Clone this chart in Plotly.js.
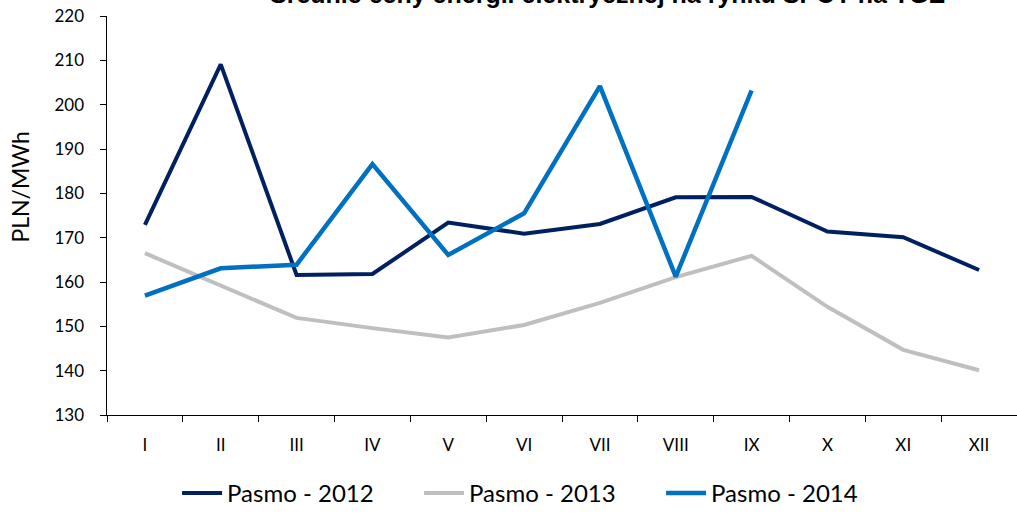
<!DOCTYPE html>
<html>
<head>
<meta charset="utf-8">
<script src="https://cdn.plot.ly/plotly-3.0.1.min.js"></script>
<style>html,body{margin:0;padding:0;background:#fff}#chart{width:1017px;height:516px}</style>
</head>
<body>
<div id="chart"></div>
<script>
const months = ["I","II","III","IV","V","VI","VII","VIII","IX","X","XI","XII"];
const pasmo2012 = [172.9, 209.1, 161.6, 161.8, 173.4, 170.9, 173.1, 179.1, 179.2, 171.4, 170.1, 162.7];
const pasmo2013 = [166.5, 159.3, 151.9, 149.6, 147.5, 150.3, 155.3, 161.1, 165.9, 154.4, 144.7, 140.1];
const pasmo2014 = [156.9, 163.1, 163.9, 186.6, 166.1, 175.5, 204.2, 161.2, 203.2];
const seriesNames = ["Pasmo - 2012", "Pasmo - 2013", "Pasmo - 2014"];
const titleText = "Średnie ceny energii elektrycznej na rynku SPOT na TGE";
const yTitle = "PLN/MWh";

const FONT = "Lato, 'Liberation Sans', sans-serif";
const traces = [
  {x: months, y: pasmo2012, name: seriesNames[0], mode: "lines", line: {color: "#002060", width: 4}},
  {x: months, y: pasmo2013, name: seriesNames[1], mode: "lines", line: {color: "#BFBFBF", width: 4}},
  {x: months.slice(0, pasmo2014.length), y: pasmo2014, name: seriesNames[2], mode: "lines", line: {color: "#0070C0", width: 4.5}}
];
const layout = {
  width: 1017, height: 516,
  margin: {l: 107, r: 0, t: 16, b: 101},
  paper_bgcolor: "#fff", plot_bgcolor: "#fff",
  font: {family: FONT, color: "#000", size: 16},
  xaxis: {
    type: "category", tickson: "boundaries", ticks: "outside", ticklen: 6, tickcolor: "#000", tickwidth: 1,
    showline: true, linecolor: "#000", linewidth: 1, showgrid: false, zeroline: false,
    ticklabelstandoff: 15,
    tickfont: {family: FONT, size: 17, color: "#000"}, range: [-0.5, 11.5], fixedrange: true
  },
  yaxis: {
    range: [130, 220], dtick: 10, ticks: "outside", ticklen: 6, tickcolor: "#000", tickwidth: 1,
    showline: true, linecolor: "#000", linewidth: 1.5, showgrid: false, zeroline: false,
    ticklabelstandoff: 12,
    tickfont: {family: FONT, size: 17, color: "#000"}
  },
  annotations: [
    {text: "<b>" + titleText + "</b>", xref: "paper", yref: "paper", x: 0.55, xanchor: "center",
     y: 1, yanchor: "bottom", yshift: 6, showarrow: false,
     font: {family: "'Liberation Sans', Arial, sans-serif", size: 25, color: "#000"}},
    {text: yTitle, xref: "paper", yref: "paper", x: -0.0956, xanchor: "center", y: 0.57, yanchor: "middle",
     textangle: -90, showarrow: false, font: {family: FONT, size: 23, color: "#000"}}
  ],
  showlegend: true,
  legend: {orientation: "h", x: 0.077, xanchor: "left", yref: "container", y: 0, yanchor: "bottom",
           entrywidth: 187, entrywidthmode: "pixels",
           font: {family: FONT, size: 24, color: "#000"}, itemwidth: 40, traceorder: "normal"}
};
Plotly.newPlot("chart", traces, layout, {displayModeBar: false, staticPlot: true});
</script>
</body>
</html>
